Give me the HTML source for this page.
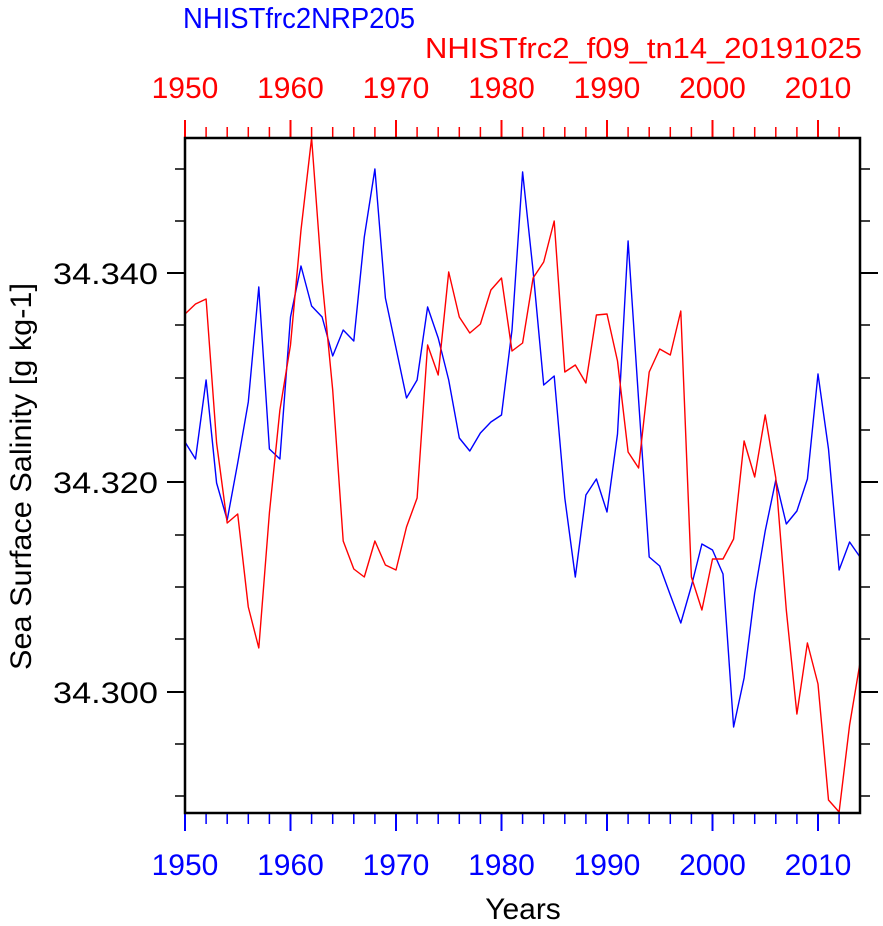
<!DOCTYPE html>
<html><head><meta charset="utf-8"><style>body{margin:0;background:#fff}svg{display:block}</style></head><body>
<svg width="883" height="926" xmlns="http://www.w3.org/2000/svg" font-family="Liberation Sans, sans-serif">
<rect width="883" height="926" fill="#fff"/>
<text x="183" y="28" font-size="29" fill="#0000ff" textLength="232" lengthAdjust="spacingAndGlyphs">NHISTfrc2NRP205</text>
<text x="425" y="58" font-size="29" fill="#ff0000" textLength="437" lengthAdjust="spacingAndGlyphs">NHISTfrc2_f09_tn14_20191025</text>
<g font-size="30" fill="#ff0000" text-anchor="middle">
<text x="185" y="98">1950</text><text x="290.5" y="98">1960</text><text x="396" y="98">1970</text><text x="501.5" y="98">1980</text><text x="607" y="98">1990</text><text x="712.5" y="98">2000</text><text x="818" y="98">2010</text></g>
<g font-size="30" fill="#0000ff" text-anchor="middle">
<text x="185" y="875">1950</text><text x="290.5" y="875">1960</text><text x="396" y="875">1970</text><text x="501.5" y="875">1980</text><text x="607" y="875">1990</text><text x="712.5" y="875">2000</text><text x="818" y="875">2010</text></g>
<text x="523" y="919" font-size="30" text-anchor="middle">Years</text>
<text transform="translate(31,670) rotate(-90)" font-size="30" textLength="387" lengthAdjust="spacingAndGlyphs">Sea Surface Salinity [g kg-1]</text>
<g font-size="30"><text x="53" y="284" textLength="105" lengthAdjust="spacingAndGlyphs">34.340</text><text x="53" y="493" textLength="105" lengthAdjust="spacingAndGlyphs">34.320</text><text x="53" y="703" textLength="105" lengthAdjust="spacingAndGlyphs">34.300</text></g>
<g id="ticks" stroke-width="2">
<path stroke="#ff0000" d="M185,138V120M290.5,138V120M396,138V120M501.5,138V120M607,138V120M712.5,138V120M818,138V120"/>
<path stroke="#ff0000" stroke-width="1.5" d="M206.1,138V127M227.2,138V127M248.3,138V127M269.4,138V127M311.6,138V127M332.7,138V127M353.8,138V127M374.9,138V127M417.1,138V127M438.2,138V127M459.3,138V127M480.4,138V127M522.6,138V127M543.7,138V127M564.8,138V127M585.9,138V127M628.1,138V127M649.2,138V127M670.3,138V127M691.4,138V127M733.6,138V127M754.7,138V127M775.8,138V127M796.9,138V127M839.1,138V127"/>
<path stroke="#0000ff" d="M185,813V831M290.5,813V831M396,813V831M501.5,813V831M607,813V831M712.5,813V831M818,813V831"/>
<path stroke="#0000ff" stroke-width="1.5" d="M206.1,813V824M227.2,813V824M248.3,813V824M269.4,813V824M311.6,813V824M332.7,813V824M353.8,813V824M374.9,813V824M417.1,813V824M438.2,813V824M459.3,813V824M480.4,813V824M522.6,813V824M543.7,813V824M564.8,813V824M585.9,813V824M628.1,813V824M649.2,813V824M670.3,813V824M691.4,813V824M733.6,813V824M754.7,813V824M775.8,813V824M796.9,813V824M839.1,813V824"/>
<path stroke="#000" d="M185,273H167M185,482H167M185,692H167M860,273H878M860,482H878M860,692H878"/>
<path stroke="#000" stroke-width="1.5" d="M185,169H175M185,221H175M185,325H175M185,378H175M185,430H175M185,535H175M185,587H175M185,639H175M185,744H175M185,796H175M860,169H870M860,221H870M860,325H870M860,378H870M860,430H870M860,535H870M860,587H870M860,639H870M860,744H870M860,796H870"/>
</g>
<polyline fill="none" stroke="#0000ff" stroke-width="1.4" stroke-linejoin="round" points="185,442 195.5,459 206.1,380 216.6,483 227.2,520 237.7,463 248.3,402 258.8,287 269.4,449 279.9,459 290.5,317 301,266 311.6,306 322.1,317 332.7,356 343.2,330 353.8,341 364.3,237 374.9,169 385.4,298 396,348 406.5,398 417.1,380 427.6,307 438.2,338 448.7,380 459.3,438 469.8,451 480.4,433 490.9,422 501.5,415 512,330 522.6,172 533.1,271 543.7,385 554.2,376 564.8,498 575.3,577 585.9,495 596.4,479 607,512 617.5,434 628.1,241 638.6,400 649.2,557 659.7,566 670.3,595 680.8,623 691.4,586 701.9,544 712.5,550 723,574 733.6,727 744.1,678 754.7,593 765.2,531 775.8,480 786.3,524 796.9,511 807.4,479 818,374 828.5,449 839.1,570 849.6,542 860,557"/>
<polyline fill="none" stroke="#ff0000" stroke-width="1.4" stroke-linejoin="round" points="185,314 195.5,304 206.1,299 216.6,443 227.2,523 237.7,514 248.3,607 258.8,648 269.4,513 279.9,410 290.5,345 301,230 311.6,138 322.1,280 332.7,390 343.2,541 353.8,569 364.3,577 374.9,541 385.4,565 396,570 406.5,527 417.1,498 427.6,345 438.2,375 448.7,272 459.3,317 469.8,333 480.4,324 490.9,290 501.5,278 512,351 522.6,343 533.1,278 543.7,262 554.2,221 564.8,372 575.3,365 585.9,383 596.4,315 607,314 617.5,361 628.1,452 638.6,468 649.2,372 659.7,349 670.3,355 680.8,311 691.4,577 701.9,610 712.5,559 723,559 733.6,539 744.1,441 754.7,477 765.2,415 775.8,478 786.3,610 796.9,714 807.4,643 818,684 828.5,800 839.1,812 849.6,725 860,663"/>
<rect x="185" y="138" width="675" height="675" fill="none" stroke="#000" stroke-width="2.5"/>
</svg>
</body></html>
